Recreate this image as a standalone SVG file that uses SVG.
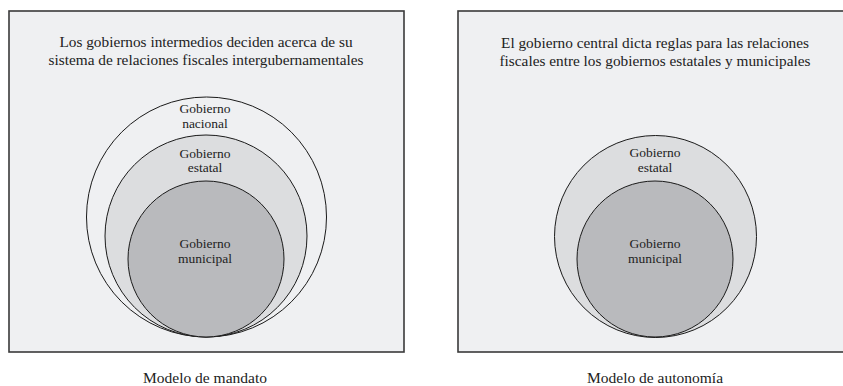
<svg xmlns="http://www.w3.org/2000/svg" width="843" height="386" viewBox="0 0 843 386">
<style>
.box{fill:#eff0f2;stroke:#3a3a3a;stroke-width:1.6}
.c{stroke:#1a1a1a;stroke-width:1}
.nac{fill:#eff0f2}
.est{fill:#dcdddf}
.mun{fill:#b9babd}
text{font-family:"Liberation Serif","Times New Roman",serif;fill:#222222;text-anchor:middle}
.t{font-size:15.3px}
.l{font-size:13.5px}
.cap{font-size:15.5px}
</style>
<rect width="843" height="386" fill="#ffffff"/>
<g id="panel-mandato">
<rect class="box" x="9" y="11" width="395" height="341"/>
<text class="t" x="206" y="47">Los gobiernos intermedios deciden acerca de su</text>
<text class="t" x="206" y="65">sistema de relaciones fiscales intergubernamentales</text>
</g>
<g id="nacional-left">
<circle class="c nac" cx="206.5" cy="217" r="120"/>
<text class="l" x="205" y="113">Gobierno</text>
<text class="l" x="205" y="128">nacional</text>
</g>
<g id="estatal-left">
<circle class="c est" cx="206" cy="236" r="101"/>
<text class="l" x="205" y="158">Gobierno</text>
<text class="l" x="205" y="172">estatal</text>
</g>
<g id="municipal-left">
<circle class="c mun" cx="206" cy="259" r="78"/>
<text class="l" x="205" y="248">Gobierno</text>
<text class="l" x="205" y="263">municipal</text>
</g>
<g id="caption-left">
<text class="cap" x="205" y="383">Modelo de mandato</text>
</g>
<g id="panel-autonomia">
<rect class="box" x="458" y="11" width="395" height="341"/>
<text class="t" x="655" y="48">El gobierno central dicta reglas para las relaciones</text>
<text class="t" x="655" y="66">fiscales entre los gobiernos estatales y municipales</text>
</g>
<g id="estatal-right">
<circle class="c est" cx="655.5" cy="236.5" r="101"/>
<text class="l" x="655" y="157">Gobierno</text>
<text class="l" x="655" y="172">estatal</text>
</g>
<g id="municipal-right">
<circle class="c mun" cx="655" cy="259" r="78"/>
<text class="l" x="655" y="248">Gobierno</text>
<text class="l" x="655" y="263">municipal</text>
</g>
<g id="caption-right">
<text class="cap" x="655" y="383">Modelo de autonomía</text>
</g>
<g id="connectors"/>
</svg>
